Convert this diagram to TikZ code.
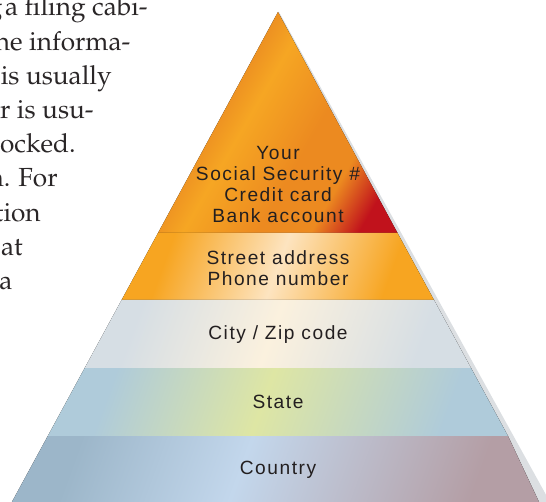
\documentclass[tikz,border=0pt]{standalone}
\usepackage[T1]{fontenc}
\usepackage{fontspec}
\usepackage{xcolor}
\newfontfamily\pyrfont[LetterSpace=8]{Liberation Sans}
\newcommand\bookfont{\fontencoding{T1}\fontfamily{ppl}\fontsize{14.9}{19.4}\selectfont}

\definecolor{pyrtext}{HTML}{231F20}
\definecolor{booktext}{HTML}{2A2627}
\definecolor{sidegray}{HTML}{DCDFE2}
% top layer
\definecolor{topdark}{HTML}{D9621E}
\definecolor{topbright}{HTML}{F6A623}
\definecolor{topmid}{HTML}{EC8A20}
\definecolor{topred}{HTML}{C1121C}
% second layer
\definecolor{streetedge}{HTML}{F7A521}
\definecolor{streetlight}{HTML}{FDE4C0}
% third layer
\definecolor{cityedge}{HTML}{D6DEE4}
\definecolor{citylight}{HTML}{FBF1DE}
% fourth layer
\definecolor{stateedge}{HTML}{AFCBDA}
\definecolor{statelight}{HTML}{DEE6A4}
% fifth layer
\definecolor{countryleft}{HTML}{9CB6C9}
\definecolor{countrylight}{HTML}{C3D7EC}
\definecolor{countryright}{HTML}{B49EA5}

\pgfdeclarehorizontalshading{topshade}{100bp}{color(0bp)=(topdark); color(25bp)=(topdark); color(44bp)=(topbright); color(58bp)=(topmid); color(68bp)=(topmid); color(77bp)=(topred); color(100bp)=(topred)}
\pgfdeclarehorizontalshading{streetshade}{100bp}{color(0bp)=(streetedge); color(28bp)=(streetedge); color(50bp)=(streetlight); color(72bp)=(streetedge); color(100bp)=(streetedge)}
\pgfdeclarehorizontalshading{cityshade}{100bp}{color(0bp)=(cityedge); color(27bp)=(cityedge); color(49bp)=(citylight); color(73bp)=(cityedge); color(100bp)=(cityedge)}
\pgfdeclarehorizontalshading{stateshade}{100bp}{color(0bp)=(stateedge); color(27bp)=(stateedge); color(48bp)=(statelight); color(73bp)=(stateedge); color(100bp)=(stateedge)}
\pgfdeclarehorizontalshading{countryshade}{100bp}{color(0bp)=(countryleft); color(26bp)=(countryleft); color(46bp)=(countrylight); color(74bp)=(countryright); color(100bp)=(countryright)}

\tikzset{
	layerlabel/.style={font=\pyrfont\fontsize{10.9}{12}\selectfont, text=pyrtext, align=center, inner sep=0pt},
	bookline/.style={font=\bookfont, text=booktext, anchor=base east, inner sep=0pt}
}

\begin{document}
\begin{tikzpicture}[x=0.02cm, y=-0.02cm]
		% Fix the page size
		\useasboundingbox (0,0) rectangle (546,502);

		% Corners of the pyramid
		\coordinate (apex) at (278,12);
		\coordinate (l1) at (158,233);   \coordinate (r1) at (397.5,233);
		\coordinate (l2) at (121.6,300); \coordinate (r2) at (434,300);
		\coordinate (l3) at (84.7,368);  \coordinate (r3) at (471,368);
		\coordinate (l4) at (47.8,436);  \coordinate (r4) at (508,436);
		\coordinate (l5) at (11.9,502);  \coordinate (r5) at (539,502);

		% Draw the gray side of the pyramid
		\fill[sidegray] (279,12) -- (550,502) -- (278,502) -- cycle;

		% Draw the layers
		\fill[shading=topshade, shading angle=-30] (apex) -- (r1) -- (l1) -- cycle;
		\fill[shading=streetshade, shading angle=-20] (l1) -- (r1) -- (r2) -- (l2) -- cycle;
		\fill[shading=cityshade, shading angle=-20] (l2) -- (r2) -- (r3) -- (l3) -- cycle;
		\fill[shading=stateshade, shading angle=-20] (l3) -- (r3) -- (r4) -- (l4) -- cycle;
		\fill[shading=countryshade, shading angle=-20] (l4) -- (r4) -- (r5) -- (l5) -- cycle;

		% Label the layers
		\node[layerlabel] (personal) at (278,184.5) {Your\\Social Security \#\\Credit card\\Bank account};
		\node[layerlabel] (street) at (278,268.5) {Street address\\Phone number};
		\node[layerlabel, anchor=base] (city) at (278,339.5) {City / Zip code};
		\node[layerlabel, anchor=base] (state) at (278,408.5) {State};
		\node[layerlabel, anchor=base] (country) at (278,474.5) {Country};

		% The cut-off book text on the left
		\node[bookline] (line1) at (148,16) {g\hspace{0.1em}a filing cabi-};
		\node[bookline] (line2) at (130.7,50.2) {he informa-};
		\node[bookline] (line3) at (112,84.4) {is usually};
		\node[bookline] (line4) at (94,118.6) {r is usu-};
		\node[bookline] (line5) at (76,152.8) {ocked.};
		\node[bookline] (line6) at (58,187) {n. For};
		\node[bookline] (line7) at (41,221.2) {tion};
		\node[bookline] (line8) at (23,255.4) {at};
		\node[bookline] (line9) at (12.7,289.6) {a};
	\end{tikzpicture}
\end{document}
